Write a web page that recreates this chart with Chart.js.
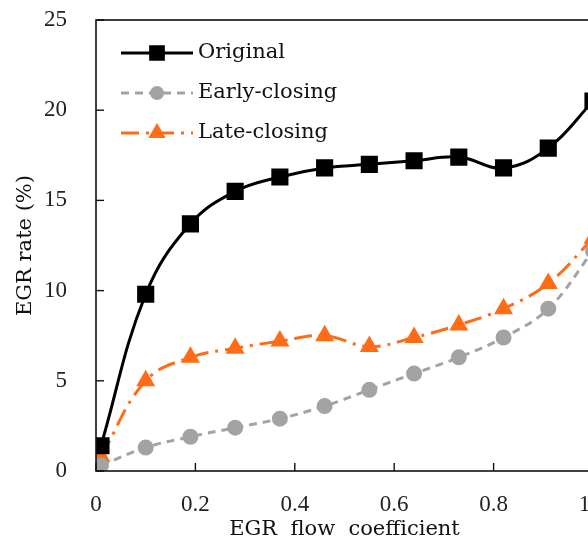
<!DOCTYPE html>
<html>
<head>
<meta charset="utf-8">
<script src="https://cdn.jsdelivr.net/npm/chart.js@4/dist/chart.umd.min.js"></script>
<style>
  html, body { margin: 0; padding: 0; background: #fff; overflow: hidden; }
  #wrap { width: 640px; height: 544px; }
</style>
</head>
<body>
<div id="wrap"><canvas id="egr" width="640" height="544"></canvas></div>
<script>
// DATA
const flowCoef = [0.01, 0.1, 0.19, 0.28, 0.37, 0.46, 0.55, 0.64, 0.73, 0.82, 0.91, 1.0];
const original = [1.4, 9.8, 13.7, 15.5, 16.3, 16.8, 17.0, 17.2, 17.4, 16.8, 17.9, 20.5];
const earlyClosing = [0.3, 1.3, 1.9, 2.4, 2.9, 3.6, 4.5, 5.4, 6.3, 7.4, 9.0, 12.2];
const lateClosing = [0.8, 5.0, 6.3, 6.8, 7.2, 7.5, 6.9, 7.4, 8.1, 9.0, 10.4, 12.9];
const seriesNames = ['Original', 'Early-closing', 'Late-closing'];

const NUMFONT = '"Liberation Serif", "Times New Roman", serif';
const TXTFONT = '"DejaVu Serif", serif';
const ORANGE = '#ff6c17';
const GREY = '#a3a3a3';

function pts(ys) {
  return ys.map((y, i) => ({ x: flowCoef[i], y: y }));
}

// box, inward ticks and legend drawn by hand
const framePlugin = {
  id: 'frame',
  afterDraw(chart) {
    const ctx = chart.ctx;
    const a = chart.chartArea;
    const xs = chart.scales.x;
    const ys = chart.scales.y;
    ctx.save();
    ctx.strokeStyle = '#111';
    ctx.lineWidth = 1.6;
    ctx.strokeRect(a.left, a.top, a.right - a.left, a.bottom - a.top);
    ctx.lineWidth = 1.4;
    ys.ticks.forEach(t => {
      const py = ys.getPixelForValue(t.value);
      ctx.beginPath();
      ctx.moveTo(a.left, py);
      ctx.lineTo(a.left + 8, py);
      ctx.stroke();
    });
    xs.ticks.forEach(t => {
      const px = xs.getPixelForValue(t.value);
      ctx.beginPath();
      ctx.moveTo(px, a.bottom);
      ctx.lineTo(px, a.bottom - 8);
      ctx.stroke();
    });

    // legend
    const x0 = a.left + 25, x1 = a.left + 97, xm = a.left + 61;
    chart.data.datasets.forEach((ds, i) => {
      const y = a.top + 33 + i * 40;
      ctx.strokeStyle = ds.borderColor;
      ctx.lineWidth = ds.borderWidth;
      ctx.setLineDash(ds.borderDash || []);
      ctx.beginPath();
      ctx.moveTo(x0, y);
      ctx.lineTo(x1, y);
      ctx.stroke();
      ctx.setLineDash([]);
      ctx.fillStyle = ds.pointBackgroundColor;
      ctx.strokeStyle = ds.pointBorderColor;
      Chart.helpers.drawPoint(ctx, {
        pointStyle: ds.pointStyle, radius: ds.pointRadius - 1, rotation: 0, borderWidth: 1
      }, xm, y);
      ctx.fillStyle = '#111';
      ctx.font = '21px ' + TXTFONT;
      ctx.textBaseline = 'middle';
      ctx.fillText(ds.label, x1 + 5, y);
    });
    ctx.restore();
  }
};

new Chart(document.getElementById('egr'), {
  type: 'line',
  data: {
    datasets: [{
      label: seriesNames[0],
      data: pts(original),
      borderColor: '#000',
      borderWidth: 3,
      pointStyle: 'rect',
      pointRadius: 10,
      pointBackgroundColor: '#000',
      pointBorderColor: '#000',
      tension: 0.4
    }, {
      label: seriesNames[1],
      data: pts(earlyClosing),
      borderColor: GREY,
      borderWidth: 3,
      borderDash: [8, 6],
      pointStyle: 'circle',
      pointRadius: 6.5,
      pointBackgroundColor: GREY,
      pointBorderColor: GREY,
      tension: 0.4
    }, {
      label: seriesNames[2],
      data: pts(lateClosing),
      borderColor: ORANGE,
      borderWidth: 3,
      borderDash: [18, 7, 3, 7],
      pointStyle: 'triangle',
      pointRadius: 8,
      pointBackgroundColor: ORANGE,
      pointBorderColor: ORANGE,
      tension: 0.4
    }]
  },
  options: {
    responsive: false,
    animation: false,
    devicePixelRatio: 1,
    layout: { autoPadding: false, padding: { top: 20, right: 47, left: 0, bottom: 0 } },
    plugins: {
      legend: { display: false },
      tooltip: { enabled: false }
    },
    scales: {
      x: {
        type: 'linear',
        min: 0,
        max: 1,
        afterFit(scale) { scale.height = 73; },
        grid: { display: false, drawTicks: false },
        border: { display: false },
        ticks: {
          stepSize: 0.2,
          padding: 20,
          color: '#222',
          font: { family: NUMFONT, size: 23 },
          maxRotation: 0
        },
        title: {
          display: true,
          text: 'EGR  flow  coefficient',
          color: '#111',
          font: { family: TXTFONT, size: 21 },
          padding: { top: 0, bottom: 2 }
        }
      },
      y: {
        min: 0,
        max: 25,
        afterFit(scale) {
          scale.width = 96;
          scale.paddingTop = 0;
          scale.paddingBottom = 0;
        },
        grid: { display: false, drawTicks: false },
        border: { display: false },
        ticks: {
          stepSize: 5,
          padding: 29,
          color: '#222',
          font: { family: NUMFONT, size: 23 }
        },
        title: {
          display: true,
          text: 'EGR rate (%)',
          color: '#111',
          font: { family: TXTFONT, size: 21 },
          padding: { top: 13, bottom: 0 }
        }
      }
    }
  },
  plugins: [framePlugin]
});
</script>
</body>
</html>
